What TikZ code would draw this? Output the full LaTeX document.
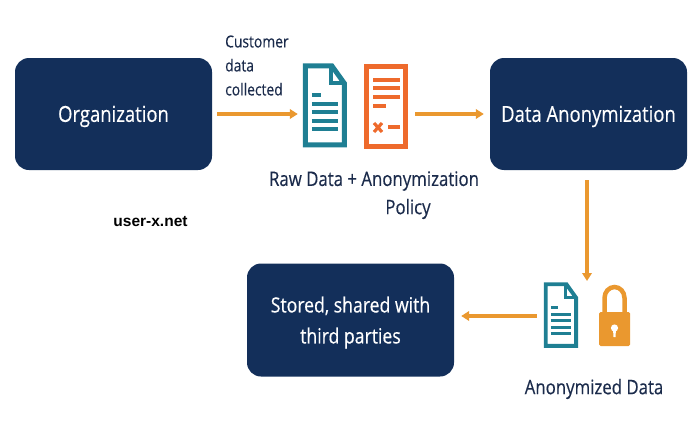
\documentclass[tikz,border=0pt]{standalone}
\usepackage{fontspec}
\setmainfont[FakeStretch=0.84,FakeBold=0.35]{Open Sans}
\newfontfamily\markfont{Liberation Sans}
\usetikzlibrary{arrows.meta}
\definecolor{navy}{HTML}{132F5A}
\definecolor{inkblue}{HTML}{1B2B4B}
\definecolor{tealdoc}{HTML}{1F7F93}
\definecolor{redpolicy}{HTML}{EE6A2C}
\definecolor{amber}{HTML}{EA982F}
% sheet with a folded corner, #1 = top left, #2 = scale
\newcommand{\docsheet}[2]{
\begin{scope}[shift={(#1)}, scale=#2, tealdoc, line width=#2*5pt, line join=miter]
\draw (2.5,2.5) -- (29,2.5) -- (41.5,20) -- (41.5,81.5) -- (2.5,81.5) -- cycle;
\draw[line width=#2*4pt] (28,2.5) -- (28,20) -- (41.5,20);
\draw[line width=#2*4pt] (9,32) -- (18,32);
\foreach \liney in {41,49,58,66} {
\draw[line width=#2*4pt] (9,\liney) -- (35,\liney);
}
\end{scope}
}
\begin{document}
\begin{tikzpicture}[
x=1pt, y=-1pt,
box/.style={rectangle, rounded corners=14pt, fill=navy, text=white, align=center, font=\fontsize{22}{31}\selectfont, minimum width=197pt, minimum height=112pt, inner sep=0pt},
label/.style={text=inkblue, font=\fontsize{20}{24}\selectfont, inner sep=0pt},
icon/.style={rectangle, inner sep=0pt, minimum width=44pt, minimum height=85pt},
arrow/.style={-{Triangle[length=8pt,width=9.5pt]}, line width=3.1pt, amber}
]
\useasboundingbox (0,0) rectangle (700,428);
\node[box] (org) at (113.5,114) {\rule{0pt}{21pt}Organization};
\node[box] (anon) at (588.5,114) {\rule{0pt}{21pt}Data Anonymization};
\node[box, font=\fontsize{21}{31}\selectfont, minimum width=207pt, minimum height=113pt] (stored) at (350.5,320) {\rule{0pt}{21pt}Stored, shared with\\third parties};
% icons
\node[icon] (rawdoc) at (325,106) {};
\node[icon] (policy) at (386,106) {};
\node[icon, minimum width=34pt, minimum height=67pt] (anondoc) at (561,316) {};
\node[icon, minimum width=31pt, minimum height=61pt] (lock) at (614.5,316) {};
\docsheet{rawdoc.north west}{1}
\docsheet{anondoc.north west}{0.78}
% policy sheet
\draw[redpolicy, line width=5pt] (366.5,66) rectangle (405.5,146);
\foreach \liney in {80,88,97} {
\draw[redpolicy, line width=3.6pt] (373,\liney) -- (400,\liney);
}
\draw[redpolicy, line width=3.6pt] (373,106) -- (386,106);
\draw[redpolicy, line width=3.2pt] (374,123) -- (382,132) (382,123) -- (374,132);
\draw[redpolicy, line width=3.2pt] (388,127) -- (400,127);
% padlock
\draw[amber, line width=4.5pt] (604.5,314) -- (604.5,298) arc[start angle=180, end angle=0, x radius=10, y radius=-11] -- (624.5,314);
\fill[amber, rounded corners=1.5pt] (599,312) rectangle (630,346);
\fill[white] (614.5,328) circle (3.6pt);
\fill[white] (613,329) -- (616,329) -- (615.5,337) -- (613.5,337) -- cycle;
% connectors
\coordinate (anondrop) at (587,281);
\draw[arrow, shorten <=5pt, shorten >=5pt] (org.east) -- (rawdoc.west |- org.east);
\draw[arrow, shorten <=7pt, shorten >=6pt] (policy.east |- anon.west) -- (anon.west);
\draw[arrow, shorten <=10pt] (anon.south -| anondrop) -- (anondrop);
\draw[arrow, shorten <=7pt, shorten >=7pt] (anondoc.west) -- (stored.east |- anondoc);
% texts
\node[label, anchor=west, align=left, font=\fontsize{16.5}{24}\selectfont] (collected) at (225,65.5) {Customer\\data\\collected};
\node[label] (rawlabel) at (374,181) {Raw Data + Anonymization};
\node[label] (policylabel) at (408,209) {Policy};
\node[label] (anonlabel) at (594,389) {Anonymized Data};
\node[font=\markfont\bfseries\fontsize{15.5}{16}\selectfont, inner sep=0pt] (mark) at (150.5,222) {user-x.net};
\end{tikzpicture}
\end{document}
